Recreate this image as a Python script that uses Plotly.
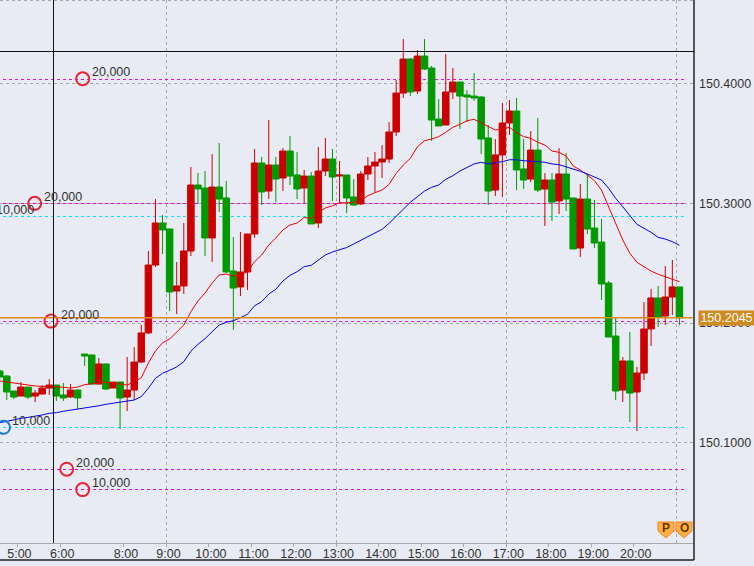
import plotly.graph_objects as go

W, H = 754, 566
PLOT_R, PLOT_B = 694, 543

opens = [150.1600,150.1558,150.1433,150.1391,150.1466,150.1391,150.1408,150.1458,150.1483,150.1400,
150.1383,150.1441,150.1742,150.1734,150.1491,150.1659,150.1458,150.1508,150.1383,150.1441,
150.1675,150.1918,150.2485,150.2836,150.2786,150.2268,150.2310,150.2602,150.3153,150.3128,
150.2711,150.3136,150.3045,150.2435,150.2302,150.2427,150.2744,150.3337,150.3103,150.3320,
150.3212,150.3437,150.3237,150.3128,150.3228,150.2836,150.3270,150.3370,150.3228,150.3237,
150.3053,150.2995,150.3245,150.3312,150.3345,150.3370,150.3596,150.3921,150.4205,150.3938,
150.4230,150.4130,150.3704,150.3654,150.3930,150.4013,150.3905,150.3896,150.3888,150.3546,
150.3111,150.3404,150.3671,150.3771,150.3287,150.3203,150.3445,150.3120,150.3195,150.3020,
150.3245,150.3045,150.2627,150.3036,150.2794,150.2677,150.2335,150.1892,150.1441,150.1684,
150.1425,150.1583,150.1951,150.2210,150.2059,150.2218,150.2302]
closes = [150.1550,150.1425,150.1383,150.1466,150.1383,150.1416,150.1458,150.1483,150.1391,150.1375,
150.1441,150.1375,150.1725,150.1491,150.1659,150.1450,150.1508,150.1375,150.1441,150.1675,
150.1918,150.2485,150.2836,150.2778,150.2260,150.2310,150.2602,150.3153,150.3120,150.2711,
150.3136,150.3036,150.2427,150.2293,150.2427,150.2744,150.3337,150.3095,150.3320,150.3203,
150.3437,150.3228,150.3120,150.3228,150.2828,150.3270,150.3370,150.3220,150.3237,150.3045,
150.2986,150.3245,150.3312,150.3345,150.3370,150.3596,150.3921,150.4205,150.3930,150.4230,
150.4122,150.3696,150.3646,150.3930,150.4013,150.3896,150.3888,150.3880,150.3537,150.3103,
150.3404,150.3671,150.3771,150.3279,150.3195,150.3445,150.3111,150.3195,150.3011,150.3245,
150.3036,150.2619,150.3036,150.2786,150.2669,150.2327,150.1884,150.1433,150.1684,150.1416,
150.1583,150.1951,150.2210,150.2051,150.2218,150.2302,150.2045]
highs = [150.1617,150.1567,150.1433,150.1508,150.1466,150.1441,150.1483,150.1533,150.1483,150.1500,
150.1491,150.1450,150.1742,150.1734,150.1709,150.1659,150.1508,150.1508,150.1717,150.1800,
150.1984,150.2602,150.3036,150.2903,150.2786,150.2510,150.2836,150.3304,150.3253,150.3270,
150.3412,150.3504,150.3187,150.2719,150.2761,150.2744,150.3454,150.3387,150.3696,150.3387,
150.3462,150.3562,150.3429,150.3279,150.3262,150.3471,150.3546,150.3454,150.3354,150.3237,
150.3203,150.3270,150.3387,150.3429,150.3487,150.3679,150.4030,150.4372,150.4214,150.4280,
150.4372,150.4147,150.3871,150.4247,150.4130,150.4013,150.3946,150.4088,150.3896,150.3654,
150.3537,150.3838,150.3863,150.3880,150.3537,150.3604,150.3713,150.3253,150.3253,150.3462,
150.3420,150.3045,150.3162,150.3245,150.3028,150.2869,150.2352,150.2051,150.1717,150.1926,
150.1634,150.2176,150.2285,150.2310,150.2477,150.2527,150.2302]
lows = [150.1525,150.1358,150.1366,150.1391,150.1366,150.1341,150.1408,150.1400,150.1350,150.1350,
150.1375,150.1283,150.1642,150.1491,150.1491,150.1441,150.1458,150.1116,150.1266,150.1358,
150.1667,150.1909,150.2469,150.2577,150.2101,150.2076,150.2243,150.2560,150.3003,150.2560,
150.2510,150.2928,150.2418,150.1943,150.2226,150.2277,150.2711,150.2986,150.3036,150.3011,
150.3103,150.3153,150.3036,150.3003,150.2828,150.2794,150.3228,150.3020,150.3003,150.2919,
150.2978,150.2986,150.3195,150.3095,150.3212,150.3337,150.3562,150.3880,150.3896,150.3913,
150.4113,150.3521,150.3646,150.3654,150.3871,150.3621,150.3679,150.3855,150.3412,150.2986,
150.3061,150.3053,150.3571,150.3111,150.3120,150.3178,150.3095,150.2811,150.2853,150.2911,
150.2936,150.2619,150.2552,150.2744,150.2627,150.2193,150.1884,150.1358,150.1341,150.1174,
150.1099,150.1525,150.1809,150.1968,150.1984,150.2068,150.1984]
ma_fast = [150.1517,150.1508,150.1502,150.1494,150.1483,150.1475,150.1472,150.1472,150.1469,150.1464,
150.1458,150.1466,150.1486,150.1494,150.1506,150.1506,150.1502,150.1491,150.1483,150.1511,
150.1544,150.1667,150.1767,150.1836,150.1867,150.1926,150.1984,150.2095,150.2185,150.2251,
150.2335,150.2402,150.2410,150.2393,150.2402,150.2429,150.2513,150.2569,150.2652,150.2711,
150.2778,150.2819,150.2836,150.2882,150.2875,150.2924,150.2961,150.2980,150.3005,150.3005,
150.3009,150.3022,150.3064,150.3089,150.3111,150.3159,150.3251,150.3320,150.3376,150.3473,
150.3523,150.3537,150.3557,150.3593,150.3635,150.3660,150.3690,150.3702,150.3673,150.3640,
150.3612,150.3621,150.3635,150.3590,150.3557,150.3543,150.3510,150.3487,150.3437,150.3426,
150.3395,150.3312,150.3279,150.3237,150.3189,150.3111,150.2972,150.2819,150.2694,150.2583,
150.2508,150.2471,150.2435,150.2408,150.2388,150.2368,150.2346]
ma_slow = [150.1168,150.1182,150.1191,150.1205,150.1213,150.1222,150.1233,150.1247,150.1252,150.1264,
150.1272,150.1280,150.1291,150.1300,150.1310,150.1322,150.1330,150.1339,150.1347,150.1358,
150.1386,150.1456,150.1539,150.1581,150.1606,150.1634,150.1678,150.1765,150.1823,150.1870,
150.1928,150.1984,150.2007,150.2020,150.2045,150.2074,150.2145,150.2179,150.2243,150.2282,
150.2352,150.2399,150.2429,150.2471,150.2483,150.2527,150.2569,150.2594,150.2610,150.2631,
150.2661,150.2690,150.2722,150.2750,150.2783,150.2833,150.2889,150.2950,150.3009,150.3056,
150.3103,150.3134,150.3153,150.3201,150.3231,150.3270,150.3301,150.3329,150.3343,150.3329,
150.3339,150.3348,150.3364,150.3364,150.3356,150.3354,150.3348,150.3343,150.3329,150.3323,
150.3306,150.3284,150.3268,150.3245,150.3223,150.3195,150.3126,150.3042,150.2972,150.2894,
150.2825,150.2792,150.2758,150.2716,150.2702,150.2680,150.2650]

tick_vals = [2.5, 8.55, 17.55] + [23.55 + 6 * k for k in range(12)]
tick_text = ["5:00", "6:00", "8:00", "9:00", "10:00", "11:00", "12:00", "13:00", "14:00",
             "15:00", "16:00", "17:00", "18:00", "19:00", "20:00"]
grid_x = [23.558, 47.568, 71.58, 95.59]
y_ticks = [150.1, 150.2, 150.3, 150.4]

magenta_levels = [150.40342, 150.29988, 150.2013, 150.07777, 150.06106]
cyan_levels = [150.28902, 150.11284]
last_price = 150.2045
cross_x, cross_y = 7.598, 150.4268

order_x = [11.72, 4.94, 7.25, 9.46, 11.72]
order_y = [150.404, 150.300, 150.2017, 150.078, 150.061]
order_text = ["20,000", "20,000", "20,000", "20,000", "10,000"]
blue_x, blue_y, blue_text = [0.54], [150.113], "10,000"

n = len(opens)
xs = list(range(n))
BG = "#e8ebf4"
RED, GREEN = "#cc0000", "#009900"

fig = go.Figure()
fig.add_trace(go.Candlestick(
    x=xs, open=opens, high=highs, low=lows, close=closes,
    increasing=dict(line=dict(color=RED, width=1), fillcolor=RED),
    decreasing=dict(line=dict(color=GREEN, width=1), fillcolor=GREEN),
    whiskerwidth=0, showlegend=False, hoverinfo="skip"))
fig.add_trace(go.Scatter(x=xs, y=ma_fast, mode="lines", line=dict(color="#ee0000", width=1),
                         showlegend=False, hoverinfo="skip"))
fig.add_trace(go.Scatter(x=xs, y=ma_slow, mode="lines", line=dict(color="#0000ee", width=1),
                         showlegend=False, hoverinfo="skip"))
fig.add_trace(go.Scatter(x=order_x, y=order_y, mode="markers",
                         marker=dict(size=13, color="rgba(0,0,0,0)", line=dict(color="#ee2233", width=2)),
                         showlegend=False, hoverinfo="skip"))
fig.add_trace(go.Scatter(x=blue_x, y=blue_y, mode="markers",
                         marker=dict(size=13, color="rgba(0,0,0,0)", line=dict(color="#1e78d2", width=2)),
                         showlegend=False, hoverinfo="skip"))

shapes = []
for gx in grid_x:
    shapes.append(dict(type="line", xref="x", yref="paper", x0=gx, x1=gx, y0=0, y1=1, layer="below",
                       line=dict(color="#a8a8a8", width=1, dash="3px,3px")))
shapes.append(dict(type="line", xref="paper", yref="paper", x0=0, x1=1, y0=0.999, y1=0.999, layer="below",
                   line=dict(color="#a8a8a8", width=1, dash="3px,3px")))
for lv in magenta_levels:
    shapes.append(dict(type="line", xref="x", yref="y", x0=0.47, x1=96.65, y0=lv, y1=lv, layer="below",
                       line=dict(color="#dd11dd", width=1, dash="3px,3px")))
for lv in cyan_levels:
    shapes.append(dict(type="line", xref="x", yref="y", x0=0.47, x1=96.65, y0=lv, y1=lv, layer="below",
                       line=dict(color="#11e0ee", width=1, dash="3px,3px")))
shapes.append(dict(type="line", xref="paper", yref="y", x0=0, x1=0.998, y0=last_price, y1=last_price,
                   line=dict(color="#e08a10", width=1.5)))
shapes.append(dict(type="line", xref="paper", yref="y", x0=0, x1=1, y0=cross_y, y1=cross_y,
                   line=dict(color="#111111", width=1)))
shapes.append(dict(type="line", xref="x", yref="paper", x0=cross_x, x1=cross_x, y0=0, y1=1,
                   line=dict(color="#111111", width=1)))


def px(v):
    return v / PLOT_R


def py(v):
    return 1 - v / PLOT_B


shapes.append(dict(type="line", xref="paper", yref="paper", x0=1, x1=1, y0=py(0), y1=py(560),
                   line=dict(color="#222222", width=1.5)))
shapes.append(dict(type="line", xref="paper", yref="paper", x0=0, x1=1, y0=py(560), y1=py(560),
                   line=dict(color="#222222", width=1.5)))

annotations = []
for x, y, t in zip(order_x, order_y, order_text):
    annotations.append(dict(x=x, y=y, xref="x", yref="y", text=t, showarrow=False, xanchor="left",
                            yanchor="middle", xshift=7.5, yshift=6.5,
                            font=dict(family="Liberation Sans", size=12.5, color="#333333")))
annotations.append(dict(x=blue_x[0], y=blue_y[0], xref="x", yref="y", text=blue_text, showarrow=False,
                        xanchor="left", yanchor="middle", xshift=6.5, yshift=6.5,
                        font=dict(family="Liberation Sans", size=12.5, color="#333333")))
annotations.append(dict(x=0.1, y=cyan_levels[0], xref="x", yref="y", text="10,000", showarrow=False,
                        xanchor="left", yanchor="middle", xshift=-6, yshift=6.5,
                        font=dict(family="Liberation Sans", size=12.5, color="#333333")))
annotations.append(dict(x=px(698), y=last_price, xref="paper", yref="y", text="150.2045", showarrow=False,
                        xanchor="left", yanchor="middle", bgcolor="#d08a20", borderpad=0, width=55, height=14,
                        align="center", font=dict(family="Liberation Sans", size=12.5, color="#ffffff")))

# P / O badges
for cx, letter in ((666, "P"), (684, "O")):
    pts = [(cx - 8, 522), (cx + 8, 522), (cx + 8, 531), (cx, 538), (cx - 8, 531)]
    path = "M " + " L ".join(f"{px(a):.5f} {py(b):.5f}" for a, b in pts) + " Z"
    shapes.append(dict(type="path", xref="paper", yref="paper", path=path, fillcolor="#ffb040",
                       line=dict(color="#f08030", width=1)))
    annotations.append(dict(x=px(cx), y=py(528), xref="paper", yref="paper", text=f"<b>{letter}</b>",
                            xanchor="center", yanchor="middle", showarrow=False,
                            font=dict(family="Liberation Sans", size=12, color="#6b3300")))

fig.update_layout(
    width=W, height=H, autosize=False,
    margin=dict(l=0, r=W - PLOT_R, t=0, b=H - PLOT_B, pad=0),
    paper_bgcolor=BG, plot_bgcolor=BG,
    boxgap=0.08, boxgroupgap=0,
    shapes=shapes, annotations=annotations, showlegend=False, hovermode=False,
    xaxis=dict(range=[0.0424, 98.06], rangeslider=dict(visible=False), showgrid=False, zeroline=False,
               tickmode="array", tickvals=tick_vals, ticktext=tick_text, ticks="outside", ticklen=3,
               tickcolor="#a8a8a8", showline=True, linecolor="#a8a8a8", linewidth=1,
               ticklabelstandoff=-4, ticklabelshift=2,
               tickfont=dict(family="Liberation Sans", size=12.5, color="#333333"), tickangle=0),
    yaxis=dict(range=[150.0164, 150.4698], side="right", tickmode="array", tickvals=y_ticks,
               tickformat=".4f", showgrid=True, griddash="3px,3px", gridcolor="#a8a8a8", gridwidth=1,
               zeroline=False, ticks="", ticklabelstandoff=4, showline=False,
               tickfont=dict(family="Liberation Sans", size=12.5, color="#333333")),
)
fig.write_html("out.html", config=dict(displayModeBar=False),
               post_script="document.body.style.margin='0';document.body.style.background='#e8ebf4';document.documentElement.style.overflow='hidden';")
